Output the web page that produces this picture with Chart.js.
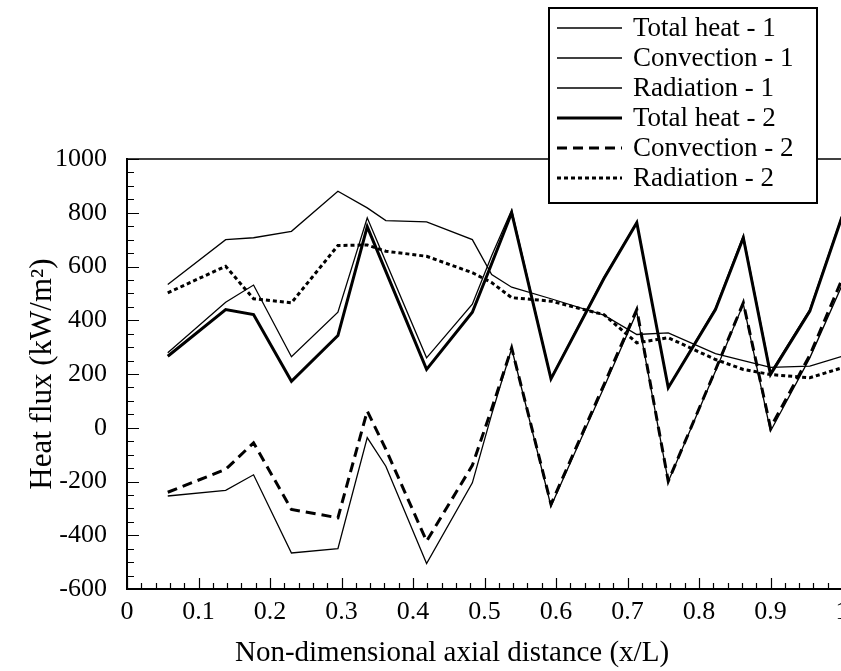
<!DOCTYPE html>
<html>
<head>
<meta charset="utf-8">
<script src="https://cdn.jsdelivr.net/npm/chart.js@4.4.1/dist/chart.umd.min.js"></script>
<style>
    html, body { margin: 0; padding: 0; overflow: hidden; background: #fff; }
    #wrap { width: 842px; height: 671px; }
</style>
</head>
<body>
<div id="wrap"><canvas id="heat-chart" width="842" height="671"></canvas></div>
<script>
// axial positions (x/L) of the computed points
const xPos = [0.057, 0.138, 0.177, 0.23, 0.295, 0.336, 0.362, 0.419, 0.483, 0.51,
              0.538, 0.593, 0.667, 0.713, 0.757, 0.823, 0.862, 0.9, 0.955, 1.0];

// heat flux, kW/m2
const totalHeat1 = [279, 467, 531, 264, 430, 781, 618, 260, 460, 640, 810, 185, 560, 765, 150, 445, 715, 205, 440, 790];
const convection1 = [-254, -233, -175, -466, -450, -37, -143, -505, -205, 50, 295, -292, 150, 430, -200, 210, 460, -13, 260, 530];
const radiation1 = [533, 700, 707, 731, 880, 818, 771, 766, 700, 570, 523, 480, 419, 347, 353, 276, 250, 225, 229, 266];
const totalHeat2 = [266, 440, 421, 173, 343, 748, 582, 217, 430, 610, 800, 182, 555, 763, 149, 440, 707, 198, 434, 785];
const convection2 = [-240, -155, -56, -304, -335, 62, -80, -422, -140, 70, 297, -285, 160, 440, -199, 215, 465, 0, 270, 552];
const radiation2 = [502, 601, 480, 465, 678, 680, 657, 638, 577, 540, 484, 471, 421, 316, 335, 254, 217, 198, 186, 223];

const xTickValues = [0, 0.1, 0.2, 0.3, 0.4, 0.5, 0.6, 0.7, 0.8, 0.9, 1];
const xTickLabels = ['0', '0.1', '0.2', '0.3', '0.4', '0.5', '0.6', '0.7', '0.8', '0.9', '1'];
const yTickValues = [-600, -400, -200, 0, 200, 400, 600, 800, 1000];
const yTickLabels = ['-600', '-400', '-200', '0', '200', '400', '600', '800', '1000'];

const xTitle = 'Non-dimensional axial distance (x/L)';
const yTitle = 'Heat flux (kW/m²)';

const FONT = "'Liberation Serif', 'Times New Roman', serif";
Chart.defaults.font.family = FONT;
Chart.defaults.font.size = 26;
Chart.defaults.color = '#000';

const toPoints = values => values.map((v, i) => ({ x: xPos[i], y: v }));

function series(label, values, width, dash) {
    return {
        label,
        data: toPoints(values),
        borderColor: '#000',
        backgroundColor: '#000',
        borderWidth: width,
        borderDash: dash,
        pointRadius: 0,
        fill: false,
        tension: 0,
    };
}

// inward tick marks (major + minor) and the top frame line
const innerTicks = {
    id: 'innerTicks',
    beforeDatasetsDraw(chart) {
        const { ctx, chartArea } = chart;
        const xs = chart.scales.x, ys = chart.scales.y;
        ctx.save();
        ctx.strokeStyle = '#000';
        ctx.lineWidth = 1.2;
        ctx.beginPath();
        for (let i = 0; i <= 50; i++) {
            const px = Math.round(xs.getPixelForValue(i * 0.02)) + 0.5;
            const len = i % 5 === 0 ? 11 : 6;
            ctx.moveTo(px, chartArea.bottom);
            ctx.lineTo(px, chartArea.bottom - len);
        }
        for (let i = 0; i <= 32; i++) {
            const py = Math.round(ys.getPixelForValue(-600 + i * 50)) + 0.5;
            const len = i % 4 === 0 ? 12 : 7;
            ctx.moveTo(chartArea.left, py);
            ctx.lineTo(chartArea.left + len, py);
        }
        ctx.stroke();
        ctx.lineWidth = 1.5;
        ctx.beginPath();
        ctx.moveTo(chartArea.left, chartArea.top);
        ctx.lineTo(chartArea.right, chartArea.top);
        ctx.stroke();
        ctx.restore();
    }
};

// x title sits left of the plot centre in the original, so it is drawn here
const axisTitle = {
    id: 'axisTitle',
    afterDraw(chart) {
        const { ctx } = chart;
        ctx.save();
        ctx.font = `29px ${FONT}`;
        ctx.fillStyle = '#000';
        ctx.textAlign = 'center';
        ctx.textBaseline = 'middle';
        ctx.fillText(xTitle, 452, 653);
        ctx.restore();
    }
};

// boxed legend that sits over the top frame
const boxLegend = {
    id: 'boxLegend',
    afterDraw(chart) {
        const { ctx } = chart;
        const left = 549, top = 8, right = 817, bottom = 203;
        const rowTop = 28, rowGap = 30;
        ctx.save();
        ctx.fillStyle = '#fff';
        ctx.fillRect(left, top, right - left, bottom - top);
        ctx.strokeStyle = '#000';
        ctx.lineWidth = 2;
        ctx.strokeRect(left, top, right - left, bottom - top);
        ctx.font = `27px ${FONT}`;
        ctx.textBaseline = 'middle';
        ctx.fillStyle = '#000';
        chart.data.datasets.forEach((ds, i) => {
            const y = rowTop + i * rowGap;
            ctx.beginPath();
            ctx.lineWidth = ds.borderWidth;
            ctx.setLineDash(ds.borderDash || []);
            ctx.moveTo(557, y);
            ctx.lineTo(622, y);
            ctx.stroke();
            ctx.setLineDash([]);
            ctx.fillText(ds.label, 633, y + 1);
        });
        ctx.restore();
    }
};

new Chart(document.getElementById('heat-chart').getContext('2d'), {
    type: 'line',
    data: {
        datasets: [
            series('Total heat - 1', totalHeat1, 1.3, []),
            series('Convection - 1', convection1, 1.3, []),
            series('Radiation - 1', radiation1, 1.3, []),
            series('Total heat - 2', totalHeat2, 3, []),
            series('Convection - 2', convection2, 3, [10, 6]),
            series('Radiation - 2', radiation2, 3, [4, 3]),
        ],
    },
    options: {
        responsive: false,
        animation: false,
        layout: { padding: { top: 159, right: 0, bottom: 0, left: 0 } },
        plugins: {
            legend: { display: false },
            tooltip: { enabled: false },
        },
        scales: {
            x: {
                type: 'linear',
                min: 0,
                max: 1,
                grid: { display: false, drawTicks: false },
                border: { display: true, color: '#000', width: 2 },
                afterBuildTicks: scale => { scale.ticks = xTickValues.map(v => ({ value: v })); },
                ticks: {
                    padding: 8,
                    maxRotation: 0,
                    autoSkip: false,
                    callback: (value, i) => xTickLabels[i],
                },
                title: { display: false },
                afterFit: scale => {
                    scale.height = 82;
                    scale.paddingLeft = 0;
                    scale.paddingRight = 0;
                },
            },
            y: {
                min: -600,
                max: 1000,
                grid: { display: false, drawTicks: false },
                border: { display: true, color: '#000', width: 2 },
                afterBuildTicks: scale => { scale.ticks = yTickValues.map(v => ({ value: v })); },
                ticks: {
                    padding: 20,
                    autoSkip: false,
                    callback: (value, i) => yTickLabels[i],
                },
                title: {
                    display: true,
                    text: yTitle,
                    font: { size: 31 },
                    padding: { top: 24, bottom: 0 },
                },
                afterFit: scale => {
                    scale.width = 127;
                    scale.paddingTop = 0;
                    scale.paddingBottom = 0;
                },
            },
        },
    },
    plugins: [innerTicks, axisTitle, boxLegend],
});
</script>
</body>
</html>
